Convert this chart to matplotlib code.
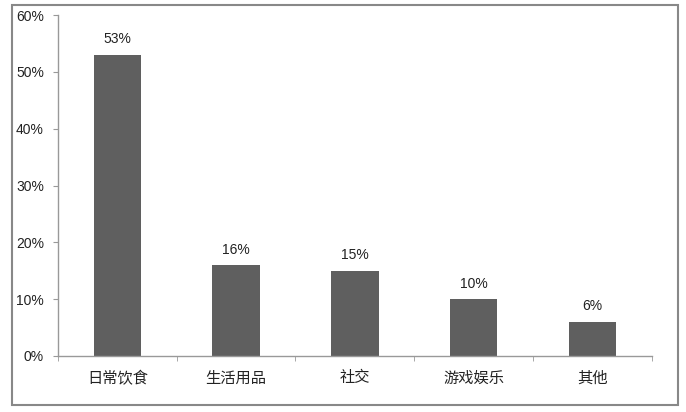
import matplotlib
matplotlib.use('Agg')
import matplotlib.pyplot as plt
from matplotlib.patches import Rectangle
import numpy as np

plt.rcParams['font.family'] = ['Liberation Sans', 'Noto Sans CJK SC', 'DejaVu Sans']

# 数据
categories = ['日常饮食', '生活用品', '社交', '游戏娱乐', '其他']
values = [53, 16, 15, 10, 6]
yticks = [0, 10, 20, 30, 40, 50, 60]

fig = plt.figure(figsize=(6.86, 4.12), dpi=100)
ax = fig.add_axes([0.0845, 0.136, 0.8655, 0.8275])

x = np.arange(len(categories))
ax.bar(x, values, width=0.4, color='#5f5f5f')
for xi, v in zip(x, values):
    ax.text(xi, v + 1.5, f'{v}%', ha='center', va='bottom', fontsize=10, color='#222222')

ax.set_xlim(-0.5, len(categories) - 0.5)
ax.set_ylim(0, 60)
ax.set_yticks(yticks)
ax.set_yticklabels([f'{t}%' for t in yticks], fontsize=10, color='#222222')
ax.set_xticks(x)
ax.set_xticklabels(categories, fontsize=11, color='#222222')
ax.tick_params(axis='x', length=0, pad=11)
ax.tick_params(axis='y', length=3.6, color='#999999', pad=6.5)
ax.set_xticks(np.arange(len(categories) + 1) - 0.5, minor=True)
ax.tick_params(axis='x', which='minor', length=3.6, color='#999999')

for s in ['top', 'right']:
    ax.spines[s].set_visible(False)
for s in ['left', 'bottom']:
    ax.spines[s].set_color('#999999')
    ax.spines[s].set_linewidth(1)

# 外框
fig.patches.append(Rectangle((12 / 686, 1 - 405 / 412), 666 / 686, 400 / 412,
                             transform=fig.transFigure, fill=False,
                             edgecolor='#888888', linewidth=1.5))

fig.savefig('out.png', dpi=100)
